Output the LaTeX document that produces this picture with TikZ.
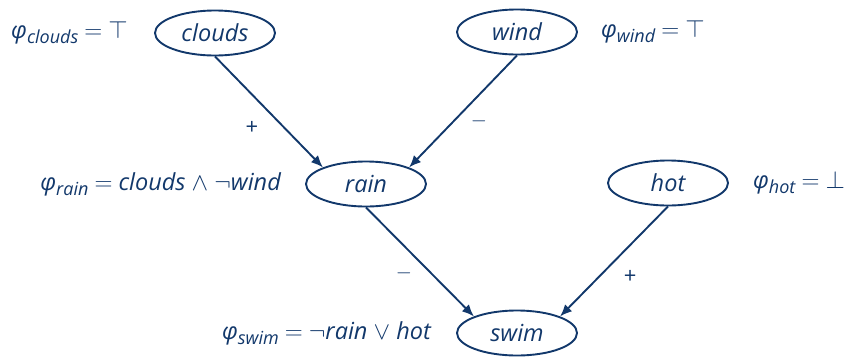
\documentclass[tikz,border=0pt]{standalone}
\usepackage{fontspec}
\setmainfont{Open Sans}
\usetikzlibrary{arrows.meta,shapes.geometric,positioning}
\definecolor{navy}{HTML}{12386B}
\newcommand{\fml}[1]{\textit{φ}\raisebox{-.4ex}{\fontsize{18}{20}\selectfont\textit{#1}}}
\begin{document}
\begin{tikzpicture}[x=1pt,y=1pt,
  var/.style={ellipse,draw=navy,line width=1.9pt,minimum width=120pt,
    minimum height=45pt,inner sep=0pt,text=navy,
    font=\fontsize{23.5}{27}\selectfont\itshape},
  cond/.style={text=navy,inner sep=0pt,font=\fontsize{23.5}{27}\selectfont\itshape},
  link/.style={navy,line width=1.9pt,-{Latex[length=12pt,width=10pt]}},
  sign/.style={text=navy,font=\fontsize{22}{25}\selectfont}]
\useasboundingbox (0,0) rectangle (849,-357);
\node[var] (clouds) at (215,-33) {clouds};
\node[var] (wind) at (517,-32) {wind};
\node[var] (rain) at (366,-184) {rain};
\node[var] (hot) at (668,-183) {hot};
\node[var] (swim) at (517,-333) {swim};
%
\node[cond,left=26pt of clouds] (fclouds) {\fml{clouds} $=$ $\top$};
\node[cond,right=23pt of wind] (fwind) {\fml{wind} $=$ $\top$};
\node[cond,left=24pt of rain] (frain) {\fml{rain} $=$ clouds $\wedge$ $\neg$wind};
\node[cond,right=24pt of hot] (fhot) {\fml{hot} $=$ $\bot$};
\node[cond,left=25pt of swim] (fswim) {\fml{swim} $=$ $\neg$rain $\vee$ hot};
%
\draw[link] (clouds.south) -- node[sign,xshift=-17pt,yshift=-16pt] {+} (rain.north west);
\draw[link] (wind.south) -- node[sign,xshift=16pt,yshift=-10pt] {$-$} (rain.north east);
\draw[link] (rain.south) -- node[sign,xshift=-16pt,yshift=-11pt] {$-$} (swim.north west);
\draw[link] (hot.south) -- node[sign,xshift=16pt,yshift=-16pt] {+} (swim.north east);
\end{tikzpicture}
\end{document}
